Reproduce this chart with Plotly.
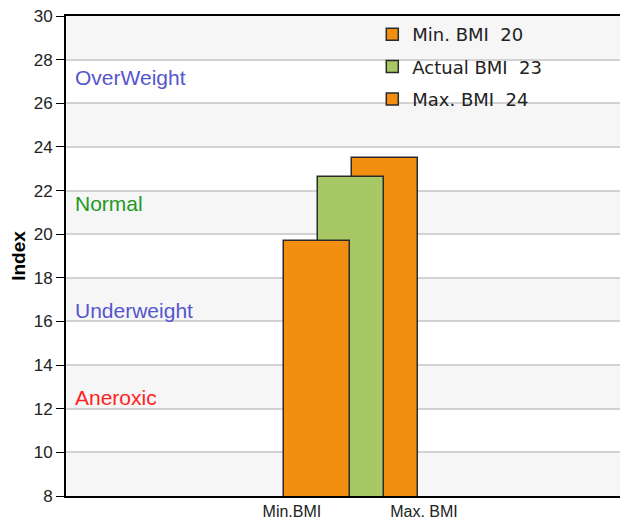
import plotly.graph_objects as go

# ---- data ----
series_names = ["Min. BMI", "Actual BMI", "Max. BMI"]
series_values = [19.7, 22.6, 23.5]
legend_values = [20, 23, 24]
series_colors = ["#F28E10", "#A8C866", "#F28E10"]

x_tick_labels = ["Min.BMI", "Max. BMI"]

band_labels = ["OverWeight", "Normal", "Underweight", "Aneroxic"]
band_label_y = [27.2, 21.4, 16.5, 12.5]
band_label_colors = ["#5555CC", "#229922", "#5555CC", "#FF2222"]

y_min, y_max, y_step = 8, 30, 2

# ---- layout helpers (styles/positions) ----
# page body has an 8px margin, so the figure is offset by (8, 8)
X_RANGE = [0, 10]
bar_x0 = 4.47
bar_dx = 0.6
bar_w = 1.174
tick_x = [4.02, 6.37]

fig = go.Figure()

# draw back-to-front: Max, Actual, Min
for i in reversed(range(len(series_names))):
    fig.add_trace(go.Bar(
        x=[bar_x0 + bar_dx * i],
        y=[series_values[i]],
        width=bar_w,
        name=f"{series_names[i]}\u00a0\u00a0{legend_values[i]}",
        marker=dict(color=series_colors[i], line=dict(color="#2a2a2a", width=1.5)),
        legendrank=i + 1,
        legendgroup=f"g{i}",
    ))

# alternating background bands
shapes = []
k = 0
v = y_min
while v < y_max:
    if k % 2 == 0:
        shapes.append(dict(type="rect", xref="paper", yref="y", x0=0, x1=1,
                           y0=v, y1=v + y_step, fillcolor="#F6F6F6",
                           line=dict(width=0), layer="below"))
    v += y_step
    k += 1

annotations = []
for lab, yv, col in zip(band_labels, band_label_y, band_label_colors):
    annotations.append(dict(x=0.012, xref="paper", y=yv, yref="y", text=lab,
                            showarrow=False, xanchor="left", yanchor="middle",
                            font=dict(family="Liberation Sans, Arial", size=21, color=col)))

fig.update_layout(
    width=620, height=517,
    margin=dict(l=58, r=0, t=8, b=29, autoexpand=False),
    paper_bgcolor="white", plot_bgcolor="white",
    barmode="overlay",
    bargap=0,
    shapes=shapes,
    annotations=annotations,
    showlegend=True,
    legend=dict(x=0.545, y=1.0, xanchor="left", yanchor="top",
                bgcolor="rgba(0,0,0,0)", traceorder="grouped", tracegroupgap=6,
                font=dict(family="DejaVu Sans, Verdana", size=18, color="#222")),
    xaxis=dict(range=X_RANGE, showgrid=False, zeroline=False,
               showline=True, linecolor="black", linewidth=2, mirror=True,
               tickvals=tick_x, ticktext=x_tick_labels, ticks="",
               tickfont=dict(family="Liberation Sans, Arial", size=16, color="#222")),
    yaxis=dict(range=[y_min, y_max], dtick=y_step, tick0=y_min,
               showgrid=True, gridcolor="#D2D2D2", gridwidth=2, zeroline=False,
               showline=True, linecolor="black", linewidth=2,
               ticks="outside", ticklen=8, tickcolor="black", tickwidth=1,
               ticklabeloverflow="allow",
               tickfont=dict(family="Liberation Sans, Arial", size=17, color="#222"),
               title=dict(text="<b>Index</b>", standoff=8,
                          font=dict(family="Liberation Sans, Arial", size=19, color="black"))),
)

fig.write_html("out.html")
